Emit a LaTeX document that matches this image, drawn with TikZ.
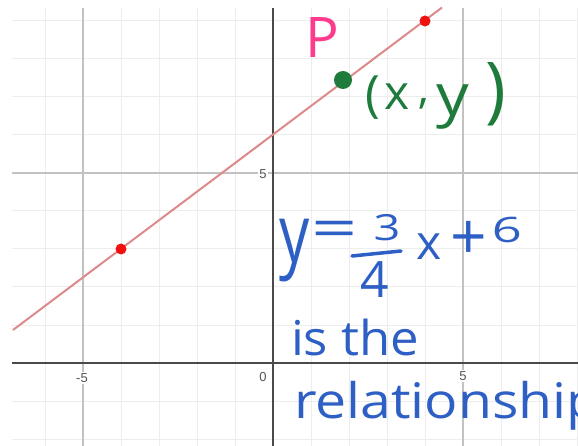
\documentclass[tikz,border=0pt]{standalone}
\usepackage{graphicx}
\usepackage{fontspec}
\newfontfamily\hwfont{Open Sans}
\newfontfamily\tickfont{Liberation Sans}
\definecolor{hwblue}{HTML}{2D5FC4}
\definecolor{hwgreen}{HTML}{1E7B3B}
\definecolor{hwpink}{HTML}{FF3B8D}
\definecolor{minorgrid}{HTML}{EDEDED}
\definecolor{majorgrid}{HTML}{C2C2C2}
\definecolor{axiscol}{HTML}{4A4A4A}
\definecolor{tickcol}{HTML}{555555}
\definecolor{linecol}{HTML}{DE8A8A}
\definecolor{dotred}{HTML}{F01010}
\tikzset{
  minorline/.style={draw=minorgrid, line width=1pt},
  majorline/.style={draw=majorgrid, line width=1.1pt},
  axisline/.style={draw=axiscol, line width=1.8pt},
  ticklabel/.style={font=\tickfont\fontsize{13}{14}\selectfont, text=tickcol, inner sep=1pt, fill=white},
  hw/.style={inner sep=0pt, outer sep=0pt},
  reddot/.style={circle, fill=dotred, minimum size=11pt, inner sep=0pt},
}
\newcommand{\hws}[1]{\hwfont\fontsize{#1}{#1}\selectfont}
\begin{document}
\begin{tikzpicture}[x=1pt,y=-1pt]
\useasboundingbox (0,0) rectangle (578,446);
\fill[white] (0,0) rectangle (578,446);
% grid
\foreach \gx in {45,121,159,197,235,311,349,387,425,501,539,577}
  \draw[minorline] (\gx,8) -- (\gx,446);
\foreach \gy in {21,59,97,135,211,249,287,325,401,439}
  \draw[minorline] (12,\gy) -- (578,\gy);
\foreach \gx in {83,463}
  \draw[majorline] (\gx,8) -- (\gx,446);
\draw[majorline] (12,173) -- (578,173);
% axes
\coordinate (ytop) at (273,8);
\coordinate (ybot) at (273,446);
\coordinate (xleft) at (12,363);
\coordinate (xright) at (578,363);
\draw[axisline] (ytop) -- (ybot);
\draw[axisline] (xleft) -- (xright);
% tick labels
\node[ticklabel] (tm5) at (82,378) {-5};
\node[ticklabel] (t0) at (263,377) {0};
\node[ticklabel] (tx5) at (463,376) {5};
\node[ticklabel] (ty5) at (263,174) {5};
% line
\coordinate (l1) at (13,330);
\coordinate (l2) at (442,7.5);
\draw[linecol, line width=2pt] (l1) -- (l2);
\node[reddot] (pa) at (121,249) {};
\node[reddot] (pb) at (425,21) {};
% point P
\node[circle, fill=hwgreen, minimum size=18pt, inner sep=0pt] (pp) at (343,80) {};
\node[hw, anchor=base west, text=hwpink] (lp) at (305,58) {\hws{56}P};
% (x, y)
\node[hw, anchor=base, text=hwgreen] (g1) at (373,112) {\hws{50}(};
\node[hw, anchor=base, text=hwgreen] (g2) at (397,110) {\hws{48}x};
\node[hw, anchor=base, text=hwgreen] (g3) at (424,104) {\hws{44},};
\node[hw, anchor=base, text=hwgreen] (g4) at (453,116) {\hws{50}\scalebox{1.3}[1.15]{y}};
\node[hw, anchor=base, text=hwgreen] (g5) at (496,115) {\hws{56}\scalebox{1.25}[1.3]{)}};
% equation
\node[hw, anchor=base, text=hwblue] (e1) at (295,263) {\hws{60}\scalebox{1}[1.35]{y}};
\node[hw, text=hwblue] (e2) at (335,234) {\hws{54}\scalebox{1.5}[1]{=}};
\node[hw, text=hwblue] (e3) at (387,228) {\hws{36}\scalebox{1.3}[1]{3}};
\coordinate (b1) at (352,256);
\coordinate (b2) at (401,251);
\draw[hwblue, line width=3.5pt, line cap=round] (b1) -- (b2);
\node[hw, text=hwblue] (e4) at (375,280) {\hws{50}4};
\node[hw, anchor=base, text=hwblue] (e5) at (429,260) {\hws{48}x};
\node[hw, text=hwblue] (e6) at (469,240) {\hws{64}+};
\node[hw, text=hwblue] (e7) at (507,230) {\hws{35}\scalebox{1.5}[1]{6}};
% text lines
\node[hw, anchor=base west, text=hwblue] (w1) at (291,355) {\hws{48}\scalebox{1.06}[1]{is the}};
\node[hw, anchor=base west, text=hwblue] (w2) at (294,418) {\hws{49}\scalebox{1.13}[1]{relationship}};
\end{tikzpicture}
\end{document}
